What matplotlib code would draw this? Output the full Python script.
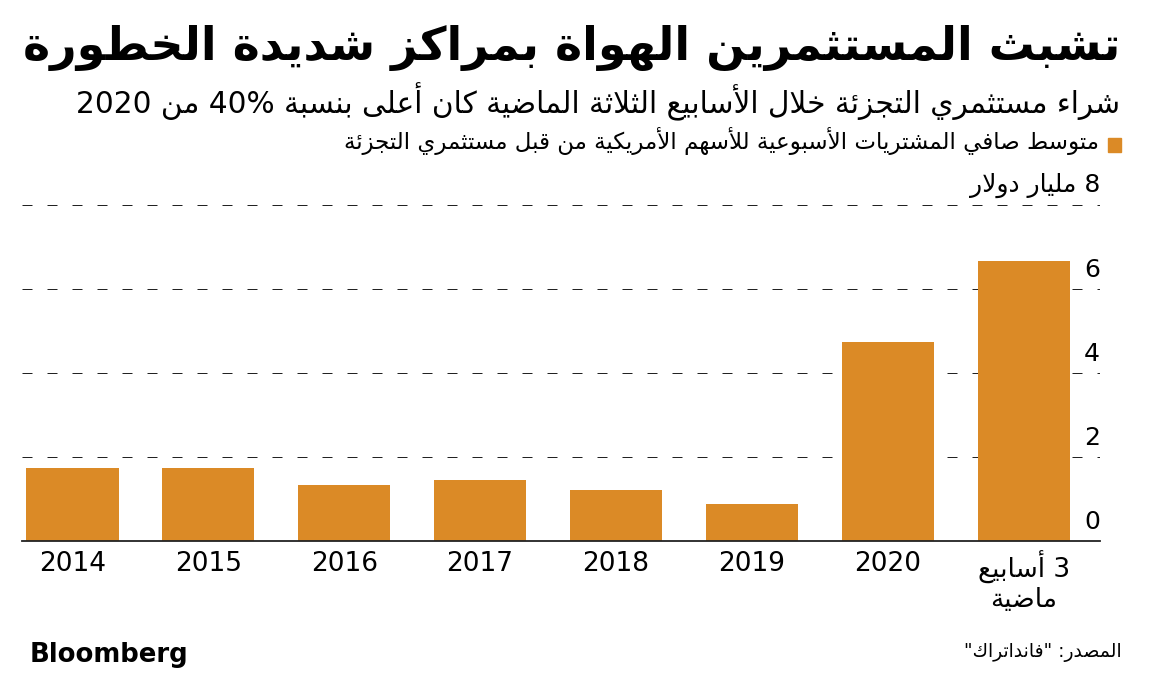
import re
import matplotlib
matplotlib.use('Agg')
import matplotlib.pyplot as plt
from matplotlib.transforms import blended_transform_factory, offset_copy
from matplotlib.patches import Rectangle

# data
labels = ['2014', '2015', '2016', '2017', '2018', '2019', '2020', '3 أسابيع\nماضية']
buys = [1.74, 1.74, 1.34, 1.46, 1.22, 0.88, 4.75, 6.66]
yticks = [0, 2, 4, 6, 8]
ytick_labels = ['0', '2', '4', '6', '8 مليار دولار']

title = 'تشبث المستثمرين الهواة بمراكز شديدة الخطورة'
subtitle = 'شراء مستثمري التجزئة خلال الأسابيع الثلاثة الماضية كان أعلى بنسبة 40% من 2020'
legend_txt = 'متوسط صافي المشتريات الأسبوعية للأسهم الأمريكية من قبل مستثمري التجزئة'
source = 'المصدر: "فانداتراك"'

BAR = '#DB8A26'

# matplotlib has no arabic shaping, so map letters to presentation forms by hand
# (base codepoint of isolated form, number of forms)
FORMS = {
    'ء': (0xFE80, 1), 'آ': (0xFE81, 2), 'أ': (0xFE83, 2), 'ؤ': (0xFE85, 2), 'إ': (0xFE87, 2),
    'ئ': (0xFE89, 4), 'ا': (0xFE8D, 2), 'ب': (0xFE8F, 4), 'ة': (0xFE93, 2), 'ت': (0xFE95, 4),
    'ث': (0xFE99, 4), 'ج': (0xFE9D, 4), 'ح': (0xFEA1, 4), 'خ': (0xFEA5, 4), 'د': (0xFEA9, 2),
    'ذ': (0xFEAB, 2), 'ر': (0xFEAD, 2), 'ز': (0xFEAF, 2), 'س': (0xFEB1, 4), 'ش': (0xFEB5, 4),
    'ص': (0xFEB9, 4), 'ض': (0xFEBD, 4), 'ط': (0xFEC1, 4), 'ظ': (0xFEC5, 4), 'ع': (0xFEC9, 4),
    'غ': (0xFECD, 4), 'ف': (0xFED1, 4), 'ق': (0xFED5, 4), 'ك': (0xFED9, 4), 'ل': (0xFEDD, 4),
    'م': (0xFEE1, 4), 'ن': (0xFEE5, 4), 'ه': (0xFEE9, 4), 'و': (0xFEED, 2), 'ى': (0xFEEF, 2),
    'ي': (0xFEF1, 4),
}
LAM_ALEF = {'آ': 0xFEF5, 'أ': 0xFEF7, 'إ': 0xFEF9, 'ا': 0xFEFB}


def jtype(t):
    if isinstance(t, tuple):
        return 2
    return FORMS[t][1] if t in FORMS else 0


def ar(text):
    lines = []
    for line in text.split('\n'):
        toks = []
        i = 0
        while i < len(line):
            c = line[i]
            if c == 'ل' and i + 1 < len(line) and line[i + 1] in LAM_ALEF:
                toks.append(('LA', line[i + 1]))
                i += 2
            else:
                toks.append(c)
                i += 1
        res = []
        for k, t in enumerate(toks):
            n = jtype(t)
            if n == 0:
                res.append(t)
                continue
            prev = jtype(toks[k - 1]) if k > 0 else 0
            nxt = jtype(toks[k + 1]) if k + 1 < len(toks) else 0
            jp = prev == 4 and n >= 2
            jn = n == 4 and nxt >= 2
            base = LAM_ALEF[t[1]] if isinstance(t, tuple) else FORMS[t][0]
            if jp and jn:
                off = 3
            elif jp:
                off = 1
            elif jn:
                off = 2
            else:
                off = 0
            res.append(chr(base + off))
        s = ''.join(res)[::-1]
        # numbers keep left-to-right order
        s = re.sub(r'[0-9A-Za-z%.]+', lambda m: m.group(0)[::-1], s)
        lines.append(s)
    return '\n'.join(lines)


plt.rcParams['font.family'] = ['DejaVu Sans']
W, H = 1153, 675
fig = plt.figure(figsize=(W / 100, H / 100), dpi=100)
ax = fig.add_axes([22 / W, 1 - 541 / H, (1100 - 22) / W, (541 - 205) / H])

x = list(range(len(labels)))
ax.bar(x, buys, width=0.68, color=BAR, zorder=2)
ax.set_xlim(-0.37, 7.56)
ax.set_ylim(0, 8)

ax.set_yticks(yticks)
ax.yaxis.grid(True, color='#222222', linewidth=0.72, dashes=(10, 15))
ax.set_axisbelow(True)
ax.tick_params(axis='y', length=0, labelleft=False)
for s in ['top', 'right', 'left']:
    ax.spines[s].set_visible(False)
ax.spines['bottom'].set_color('#222222')
ax.spines['bottom'].set_linewidth(1.3)

ax.set_xticks(x)
ax.set_xticklabels([ar(l) for l in labels], fontsize=19, linespacing=1.15)
ax.tick_params(axis='x', length=0, pad=7)

trans = offset_copy(blended_transform_factory(ax.transAxes, ax.transData), fig=fig, y=5, units='points')
for v, lab in zip(yticks, ytick_labels):
    ax.text(1.0, v, ar(lab), transform=trans, ha='right', va='bottom', fontsize=18, clip_on=False)

fig.text(1120 / W, 1 - 60 / H, ar(title), ha='right', va='baseline', fontsize=33, fontweight='bold')
fig.text(1120 / W, 1 - 113 / H, ar(subtitle), ha='right', va='baseline', fontsize=21.3)
fig.text(1099 / W, 1 - 149 / H, ar(legend_txt), ha='right', va='baseline', fontsize=16.5)
fig.patches.append(Rectangle((1108 / W, 1 - 152 / H), 13 / W, 14 / H, transform=fig.transFigure,
                             color=BAR, figure=fig))
fig.text(1122 / W, 1 - 657 / H, ar(source), ha='right', va='baseline', fontsize=13.5)
fig.text(30 / W, 1 - 662 / H, 'Bloomberg', ha='left', va='baseline', fontsize=18.7, fontweight='bold')

fig.savefig('out.png', dpi=100)
